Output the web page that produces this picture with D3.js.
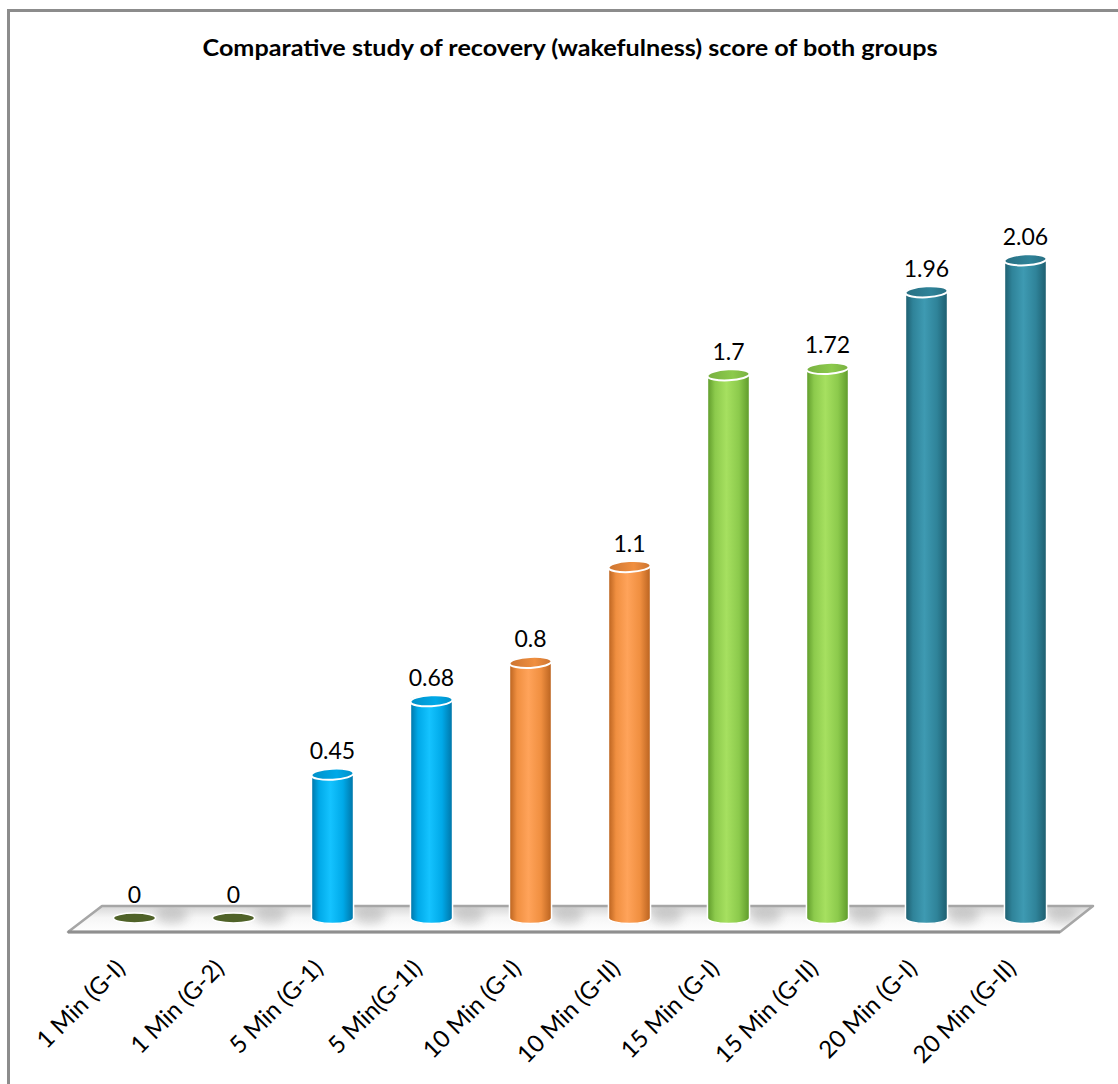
<!DOCTYPE html>
<html><head><meta charset="utf-8">
<script src="https://cdn.jsdelivr.net/npm/d3@7"></script>
<style>html,body{margin:0;padding:0;background:#fff;}svg{display:block;}</style>
</head><body>
<svg id="c" width="1118" height="1084"></svg>
<script>
const title = "Comparative study of recovery (wakefulness) score of both groups";
const categories = ["1 Min (G-I)","1 Min (G-2)","5 Min (G-1)","5 Min(G-1I)","10 Min (G-I)","10 Min (G-II)","15 Min (G-I)","15 Min (G-II)","20 Min (G-I)","20 Min (G-II)"];
const values = [0,0,0.45,0.68,0.8,1.1,1.7,1.72,1.96,2.06];
const labels = ["0","0","0.45","0.68","0.8","1.1","1.7","1.72","1.96","2.06"];
const colorGroups = [0,0,1,1,2,2,3,3,4,4];
const palette = [
  {dark:"#3f4f1f", mid:"#5b6b2f", light:"#6e8038", top:"#4f6228"},
  {dark:"#0074a6", mid:"#00a9e8", light:"#14c3ff", top:"#0090c8"},
  {dark:"#b9621f", mid:"#f08f40", light:"#ffa35a", top:"#cc7430"},
  {dark:"#5e9a2a", mid:"#8cca4c", light:"#a6e060", top:"#78b040"},
  {dark:"#1d5d6e", mid:"#2f8399", light:"#3e9ab2", top:"#286f82"}
];
const FONT = "Lato, 'Open Sans', sans-serif";

const svg = d3.select("#c");
const defs = svg.append("defs");

svg.append("path").attr("d","M8.5,1084 V10.5 H1118").attr("fill","none").attr("stroke","#8c8c8c").attr("stroke-width",3);

svg.append("text").attr("x",570).attr("y",56).attr("text-anchor","middle")
  .attr("font-family",FONT).attr("font-weight","bold").attr("font-size",23)
  .attr("textLength",735).attr("lengthAdjust","spacingAndGlyphs").text(title);

const baseY = 918;
const x = d3.scaleBand().domain(categories).range([85,1075]).paddingInner(0.575).paddingOuter(0.2875);
const y = d3.scaleLinear().domain([0,2.2]).range([baseY, baseY-2.2*319.5]);
const rx = x.bandwidth()/2, ry = 5.5;

palette.forEach((p,i)=>{
  const g = defs.append("linearGradient").attr("id","cyl"+i).attr("x1","0").attr("x2","1").attr("y1","0").attr("y2","0");
  g.append("stop").attr("offset","0").attr("stop-color",p.dark);
  g.append("stop").attr("offset","0.18").attr("stop-color",p.mid);
  g.append("stop").attr("offset","0.45").attr("stop-color",p.light);
  g.append("stop").attr("offset","0.75").attr("stop-color",p.mid);
  g.append("stop").attr("offset","1").attr("stop-color",p.dark);
  const t = defs.append("linearGradient").attr("id","top"+i).attr("x1","0").attr("x2","1").attr("y1","0").attr("y2","0");
  t.append("stop").attr("offset","0").attr("stop-color",p.top);
  t.append("stop").attr("offset","0.6").attr("stop-color",p.mid);
  t.append("stop").attr("offset","1").attr("stop-color",p.top);
});

const floorG = defs.append("linearGradient").attr("id","floor").attr("x1","0").attr("x2","0").attr("y1","0").attr("y2","1");
floorG.append("stop").attr("offset","0").attr("stop-color","#d6d6d6");
floorG.append("stop").attr("offset","0.45").attr("stop-color","#f6f6f6");
floorG.append("stop").attr("offset","1").attr("stop-color","#ffffff");
const blur = defs.append("filter").attr("id","blur").attr("x","-50%").attr("y","-50%").attr("width","200%").attr("height","200%");
blur.append("feGaussianBlur").attr("stdDeviation",5);
const clip = defs.append("clipPath").attr("id","floorClip");
const floorPts = [[102,906],[1093,906],[1060,932],[68,932]];
clip.append("polygon").attr("points",floorPts.map(p=>p.join(",")).join(" "));
svg.append("polygon").attr("points",floorPts.map(p=>p.join(",")).join(" ")).attr("fill","url(#floor)");
svg.append("g").attr("clip-path","url(#floorClip)").selectAll("ellipse").data(categories).join("ellipse")
  .attr("cx",d=>x(d)+x.bandwidth()+16).attr("cy",baseY-3).attr("rx",16).attr("ry",9)
  .attr("fill","#a0a0a0").attr("opacity",0.45).attr("filter","url(#blur)");
svg.append("polygon").attr("points",floorPts.map(p=>p.join(",")).join(" ")).attr("fill","none")
  .attr("stroke","#a6a6a6").attr("stroke-width",2.5).attr("stroke-linejoin","round");
svg.append("line").attr("x1",68).attr("x2",1060).attr("y1",932).attr("y2",932).attr("stroke","#8f8f8f").attr("stroke-width",3);

const bars = svg.append("g").selectAll("g").data(categories.map((c,i)=>({c,v:values[i],l:labels[i],g:colorGroups[i]}))).join("g");
bars.each(function(d){
  const gsel = d3.select(this);
  const cx = x(d.c)+rx, yt = y(d.v);
  if (d.v > 0) {
    const path = `M${cx-rx},${yt} L${cx-rx},${baseY} A${rx},${ry} 0 0 0 ${cx+rx},${baseY} L${cx+rx},${yt} A${rx},${ry} 0 0 0 ${cx-rx},${yt} Z`;
    gsel.append("path").attr("d",path).attr("fill",`url(#cyl${d.g})`).attr("stroke","#ffffff").attr("stroke-width",1.5);
    gsel.append("ellipse").attr("cx",cx).attr("cy",yt).attr("rx",rx).attr("ry",ry)
      .attr("transform",`rotate(-3,${cx},${yt})`)
      .attr("fill",`url(#top${d.g})`).attr("stroke","#ffffff").attr("stroke-width",2);
  } else {
    gsel.append("ellipse").attr("cx",cx).attr("cy",baseY).attr("rx",rx).attr("ry",ry-0.5)
      .attr("fill",palette[d.g].top).attr("stroke","#ffffff").attr("stroke-width",1.5);
  }
  gsel.append("text").attr("x",cx).attr("y",yt-15).attr("text-anchor","middle")
    .attr("font-family",FONT).attr("font-size",23).attr("fill","#000").text(d.l);
});

svg.append("g").selectAll("text").data(categories).join("text")
  .attr("transform",d=>`translate(${x(d)+rx-14},${964}) rotate(-45)`)
  .attr("text-anchor","end").attr("dy","0.35em")
  .attr("font-family",FONT).attr("font-size",24).attr("fill","#000").text(d=>d);
</script>
</body></html>
